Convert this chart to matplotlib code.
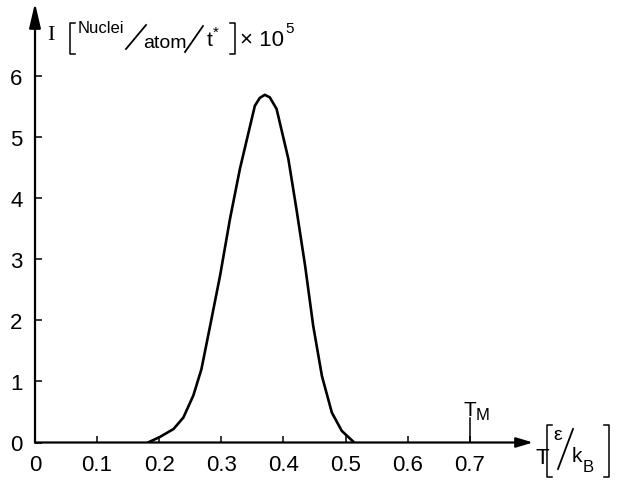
import matplotlib
matplotlib.use("Agg")
from matplotlib import pyplot as plt
from matplotlib.lines import Line2D

# nucleation rate I(T)
temp = [0.182, 0.201, 0.223, 0.239, 0.255, 0.268, 0.282, 0.298, 0.314,
        0.330, 0.344, 0.354, 0.362, 0.370, 0.378, 0.389, 0.408, 0.421,
        0.435, 0.448, 0.462, 0.478, 0.494, 0.513]
rate = [0.00, 0.09, 0.22, 0.41, 0.77, 1.20, 1.91, 2.73, 3.66,
        4.48, 5.08, 5.51, 5.64, 5.69, 5.65, 5.46, 4.64, 3.82,
        2.89, 1.91, 1.09, 0.49, 0.19, 0.01]

x_ticks = [0, 0.1, 0.2, 0.3, 0.4, 0.5, 0.6, 0.7]
x_labels = ["0", "0.1", "0.2", "0.3", "0.4", "0.5", "0.6", "0.7"]
y_ticks = [0, 1, 2, 3, 4, 5, 6]
t_melt = 0.7

W, H = 624, 481
plt.rcParams['font.family'] = ['Liberation Sans', 'DejaVu Sans']


def px(x, y):
    return x / W, 1 - y / H


fig = plt.figure(figsize=(W / 100, H / 100), dpi=100)
renderer = fig.canvas.get_renderer()

# axes: T=0 at x=35px, 0.1 per 62.1px; I=0 at y=443.5px, 61.1px per unit
x0, y0 = 35, 443.5
xmax = (533 - x0) / 621
ymax = (y0 - 4) / 61.1
ax = fig.add_axes([x0 / W, 1 - y0 / H, (533 - x0) / W, (y0 - 4) / H])
ax.set_xlim(0, xmax)
ax.set_ylim(0, ymax)

ax.plot(temp, rate, color='black', lw=1.9, solid_joinstyle='round',
        solid_capstyle='round')

for s in ax.spines.values():
    s.set_visible(False)

# axis lines with arrow heads
ax.annotate('', xy=(xmax, 0), xytext=(0, 0), annotation_clip=False,
            arrowprops=dict(arrowstyle='-|>,head_length=1.0,head_width=0.3',
                            color='black', lw=1.6, shrinkA=0, shrinkB=0))
ax.annotate('', xy=(0, ymax), xytext=(0, 0), annotation_clip=False,
            arrowprops=dict(arrowstyle='-|>,head_length=1.5,head_width=0.35',
                            color='black', lw=1.6, shrinkA=0, shrinkB=0))

ax.set_xticks(x_ticks)
ax.set_xticklabels(x_labels)
ax.set_yticks(y_ticks)
ax.tick_params(direction='in', length=5, width=1.1, labelsize=16, pad=8)
ax.tick_params(axis='y', pad=9)


def put(x, y, s, size, **kw):
    t = fig.text(*px(x, y), s, fontsize=size, ha='left', va='center', **kw)
    return t


def after(t, y, s, size, gap=1, **kw):
    # place text right after the previous one
    bb = t.get_window_extent(renderer)
    return put(bb.x1 + gap, y, s, size, **kw)


def bracket(xl, ytop, ybot, side):
    d = 5 if side == 'l' else -5
    xs = [xl + d, xl, xl, xl + d]
    ys = [ytop, ytop, ybot, ybot]
    fig.add_artist(Line2D([x / W for x in xs], [1 - y / H for y in ys],
                          color='black', lw=1.1))


def slash(xa, ya, xb, yb):
    fig.add_artist(Line2D([xa / W, xb / W], [1 - ya / H, 1 - yb / H],
                          color='black', lw=1.3))


# melting temperature marker
ax.plot([t_melt, t_melt], [0, 0.40], color='black', lw=1.1)
tm = put(463, 410, 'T', 15)
after(tm, 416, 'M', 12, gap=0)

# y axis label: I [Nuclei/atom/t*] x 10^5
put(47, 36, 'I', 16, family='Liberation Serif')
bracket(70, 24, 55, 'l')
put(78, 29, 'Nuclei', 12)
slash(126, 50, 146, 26)
put(143, 43, 'atom', 14)
slash(185, 53, 203, 27)
t_star = put(207, 40, 't', 15)
after(t_star, 33, '*', 11, gap=0)
bracket(235, 24, 55, 'r')
ten = put(240, 40, '× 10', 16)
after(ten, 29, '5', 11, gap=1)

# x axis label: T [eps/kB]
put(536, 458, 'T', 16)
bracket(547, 426, 478, 'l')
put(553, 436, 'ε', 14)
slash(558, 470, 573, 430)
kk = put(572, 457, 'k', 15)
after(kk, 468, 'B', 12, gap=0)
bracket(609, 426, 478, 'r')

fig.savefig('out.png', dpi=100)
